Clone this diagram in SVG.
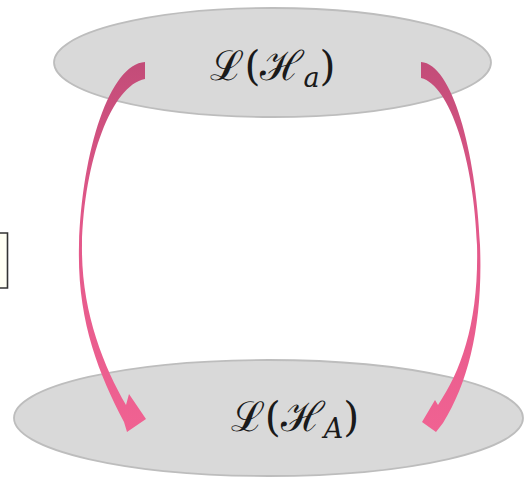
<svg xmlns="http://www.w3.org/2000/svg" width="525" height="478" viewBox="0 0 525 478">
<defs>
<style>
.node{fill:#d9d9d9;stroke:#bdbdbd;stroke-width:1.8}
.lbl{font-family:"DejaVu Serif","Liberation Serif",serif;font-size:41px;fill:#1a1a1a}
.sub{font-style:italic;font-size:27px}
.arrow{fill:url(#pg)}
</style>
<linearGradient id="pg" gradientUnits="userSpaceOnUse" x1="0" y1="60" x2="0" y2="432">
<stop offset="0" stop-color="#c24c78"/>
<stop offset="0.45" stop-color="#e3588a"/>
<stop offset="1" stop-color="#f06292"/>
</linearGradient>
</defs>
<rect width="525" height="478" fill="#ffffff"/>
<g id="bracket">
<path d="M-4,233 H7.5 V288 H-4" fill="#fffff4" stroke="#333" stroke-width="1.6"/>
</g>
<g id="node-top">
<ellipse class="node" cx="272.5" cy="62.5" rx="218.5" ry="54.5"/>
<text class="lbl" x="273" y="80" text-anchor="middle">ℒ(ℋ<tspan class="sub" dy="7">a</tspan><tspan dy="-7">)</tspan></text>
</g>
<g id="node-bottom">
<ellipse class="node" cx="268.5" cy="418" rx="254.5" ry="58"/>
<text class="lbl" x="295" y="431" text-anchor="middle">ℒ(ℋ<tspan class="sub" dy="7">A</tspan><tspan dy="-7">)</tspan></text>
</g>
<g id="connectors">
<path class="arrow" d="M145,62 C110,64 82,150 79,245 C77,320 98,372 124,422 L127,432 L146,419 L129,394 L126,405 C103,365 81,310 82,245 C84,160 112,85 145,79 Z"/>
<path class="arrow" d="M421,62 C452,64 476,150 480,245 C483,320 470,380 443,423 L436,432 L422,422 L435,400 L438,405 C462,370 479,320 477,245 C474,160 450,85 421,78 Z"/>
</g>
</svg>
